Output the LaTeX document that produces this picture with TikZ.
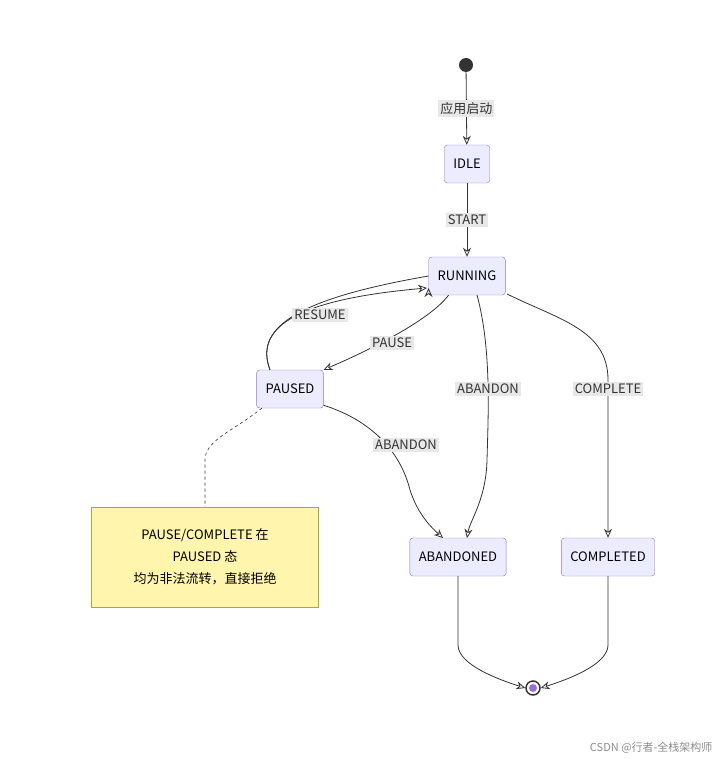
\documentclass[tikz,border=0pt]{standalone}
\usepackage{fontspec}
\setmainfont{Noto Sans CJK SC}
\usetikzlibrary{arrows.meta,positioning}
\definecolor{stfill}{HTML}{ECECFF}
\definecolor{stline}{HTML}{9370DB}
\definecolor{notefill}{HTML}{FFF5AD}
\definecolor{noteline}{HTML}{AAAA33}
\definecolor{lblfill}{HTML}{E8E8E8}
\definecolor{edgecol}{HTML}{333333}
\tikzset{
  state/.style={draw=stline,fill=stfill,rounded corners=3pt,minimum height=38pt,inner xsep=9pt,font=\fontsize{13}{15}\selectfont},
  lbl/.style={fill=lblfill,inner sep=2pt,font=\fontsize{13}{15}\selectfont,text=edgecol},
  edge/.style={draw=edgecol,line width=0.8pt,-{Stealth[length=9pt,width=8pt,open]}},
}
\begin{document}
\begin{tikzpicture}[x=1pt,y=-1pt]
  \useasboundingbox (0,0) rectangle (724,762);

  % states
  \node[circle,fill=black!80,minimum size=14pt,inner sep=0pt] (init) at (466,65) {};
  \node[state] (idle) at (467,164) {IDLE};
  \node[state] (running) at (467,276) {RUNNING};
  \node[state] (paused) at (290,389) {PAUSED};
  \node[state] (abandoned) at (458,557) {ABANDONED};
  \node[state] (completed) at (608,557) {COMPLETED};
  \node[circle,draw=black!80,line width=1.5pt,fill=white,minimum size=14pt,inner sep=0pt] (final) at (533,688) {};
  \fill[stline] (final) circle (4pt);

  % note
  \node[draw=noteline,fill=notefill,minimum width=227pt,minimum height=100pt,align=center,
        font=\fontsize{13}{22}\selectfont] (note) at (205,557)
        {PAUSE/COMPLETE 在\\PAUSED 态\\均为非法流转，直接拒绝};

  % transitions
  \draw[edge] (init) -- node[lbl] {应用启动} (idle);
  \draw[edge] (idle) -- node[lbl] {START} (running);
  \draw[edge] (running.south west) ++(20,0) .. controls (430,320) and (370,350) .. (paused.north east);
  \node[lbl] (lpause) at (392,343) {PAUSE};
  \draw[edge] (paused.north) ++(-20,0) .. controls (255,330) and (290,300) .. (running.west) ++(0,12);
  \draw[edge] (270,370) .. controls (255,330) and (290,300) .. (427,288);
  \node[lbl] (lresume) at (320,315) {RESUME};
  \draw[edge] (477,295) .. controls (492,350) and (488,420) .. (487,460) .. controls (486,500) and (470,520) .. (467,538);
  \node[lbl] (lab1) at (488,389) {ABANDON};
  \draw[edge] (507,294) .. controls (560,320) and (608,330) .. (608,380) -- (completed.north);
  \node[lbl] (lcomp) at (608,389) {COMPLETE};
  \draw[edge] (paused.south east) ++(0,-3) .. controls (370,420) and (400,450) .. (410,490) .. controls (418,515) and (432,528) .. (443,538);
  \node[lbl] (lab2) at (406,445) {ABANDON};
  \draw[edge] (abandoned.south) -- (458,645) .. controls (458,665) and (500,680) .. (final.west);
  \draw[edge] (completed.south) -- (608,645) .. controls (608,665) and (566,680) .. (final.east);
  \draw[edge,-,dashed,line width=0.6pt] (262,408) .. controls (235,430) and (205,440) .. (205,460) -- (note.north);

  \node[text=black!45,font=\fontsize{11}{13}\selectfont,anchor=east] (mark) at (716,748) {CSDN @行者-全栈架构师};
\end{tikzpicture}
\end{document}
